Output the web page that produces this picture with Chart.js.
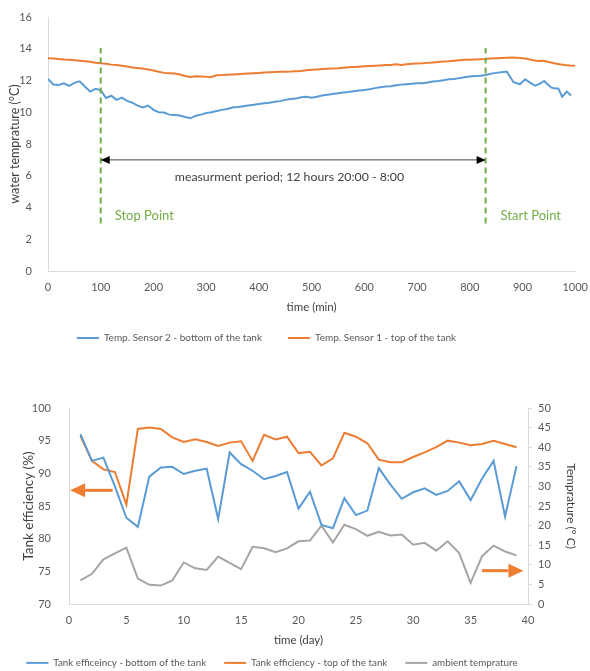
<!DOCTYPE html>
<html><head><meta charset="utf-8">
<script src="https://cdn.jsdelivr.net/npm/chart.js@4.4.0/dist/chart.umd.min.js"></script>
<style>
html,body{margin:0;padding:0;background:#fff;width:590px;height:671px;overflow:hidden}
canvas{position:absolute;left:0}
#c1{top:0}
#c2{top:380px}
</style></head><body>
<canvas id="c1" width="590" height="353" style="width:590px;height:353px"></canvas>
<canvas id="c2" width="590" height="291" style="width:590px;height:291px"></canvas>
<script>
// ---------- Chart 1: water temperature vs time (min) ----------
const sensor2Time = [0,10,20,30,40,50,60,70,80,90,100,110,120,130,140,150,160,170,180,190,200,210,220,230,240,250,260,270,280,290,300,310,320,330,340,350,360,370,380,390,400,410,420,430,440,450,460,470,480,490,500,510,520,530,540,550,560,570,580,590,600,610,620,630,640,650,660,670,680,690,700,710,720,730,740,750,760,770,780,790,800,810,820,830,840,850,860,870,883,895,905,915,924,933,941,948,955,962,968,975,984,992];
const sensor2Temp = [12.10,11.75,11.72,11.82,11.66,11.85,11.95,11.62,11.30,11.48,11.40,10.90,11.04,10.78,10.92,10.72,10.60,10.42,10.30,10.42,10.15,10.00,9.98,9.85,9.83,9.80,9.70,9.62,9.78,9.85,9.95,10.00,10.08,10.15,10.20,10.30,10.33,10.38,10.43,10.47,10.52,10.56,10.60,10.66,10.70,10.78,10.83,10.86,10.94,10.97,10.92,10.98,11.05,11.10,11.15,11.19,11.25,11.28,11.33,11.37,11.40,11.45,11.52,11.58,11.62,11.64,11.70,11.74,11.77,11.80,11.82,11.82,11.88,11.93,11.97,12.02,12.08,12.10,12.15,12.20,12.25,12.28,12.30,12.35,12.42,12.48,12.52,12.56,11.89,11.76,12.07,11.85,11.67,11.80,11.97,11.75,11.55,11.50,11.50,10.98,11.30,11.05];
const sensor1Time = [0,10,20,30,40,50,60,70,80,90,100,110,120,130,140,150,160,170,180,190,200,210,220,230,240,250,260,270,280,290,300,310,320,330,340,350,360,370,380,390,400,410,420,430,440,450,460,470,480,490,500,510,520,530,540,550,560,570,580,590,600,610,620,630,640,650,660,670,680,690,700,710,720,730,740,750,760,770,780,790,800,810,820,830,840,850,860,870,880,890,900,910,920,930,940,950,960,970,980,990,1000];
const sensor1Temp = [13.40,13.38,13.35,13.32,13.30,13.28,13.25,13.22,13.18,13.12,13.08,13.05,13.00,12.97,12.93,12.88,12.82,12.78,12.75,12.70,12.63,12.55,12.48,12.46,12.44,12.38,12.28,12.22,12.26,12.25,12.23,12.22,12.33,12.34,12.36,12.38,12.40,12.42,12.44,12.46,12.48,12.50,12.52,12.54,12.55,12.55,12.56,12.58,12.60,12.65,12.68,12.70,12.72,12.74,12.76,12.77,12.80,12.83,12.85,12.87,12.89,12.91,12.93,12.95,12.97,12.98,13.02,12.97,13.02,13.05,13.07,13.08,13.11,13.14,13.17,13.20,13.22,13.25,13.28,13.30,13.31,13.33,13.34,13.35,13.38,13.40,13.42,13.44,13.45,13.43,13.40,13.35,13.28,13.23,13.25,13.17,13.09,13.03,12.98,12.95,12.93];
const stopTime = 100, startTime = 830;
const markerSpan = [3, 14.05];       // vertical extent of the stop/start markers (°C)
const periodArrowTemp = 7;           // level of the measurement-period arrow (°C)
const periodLabel = 'measurment period; 12 hours 20:00 - 8:00';
const xTicks1 = [0,100,200,300,400,500,600,700,800,900,1000];
const yTicks1 = [0,2,4,6,8,10,12,14,16];

// ---------- Chart 2: tank efficiency vs time (day) ----------
const days = [1,2,3,4,5,6,7,8,9,10,11,12,13,14,15,16,17,18,19,20,21,22,23,24,25,26,27,28,29,30,31,32,33,34,35,36,37,38,39];
const effBottom = [96.0,91.9,92.4,88.0,83.2,81.8,89.5,90.9,91.0,89.9,90.4,90.7,83.0,93.2,91.4,90.4,89.1,89.6,90.2,84.6,87.2,82.1,81.6,86.2,83.6,84.3,90.8,88.3,86.1,87.1,87.7,86.7,87.3,88.8,85.9,89.2,91.9,83.4,91.1];
const effTop = [95.7,91.9,90.6,90.2,85.2,96.8,97.0,96.8,95.5,94.8,95.2,94.8,94.2,94.7,94.9,91.9,95.9,95.2,95.6,93.1,93.3,91.2,92.3,96.2,95.6,94.6,92.1,91.7,91.7,92.5,93.2,94.0,95.0,94.7,94.3,94.5,95.0,94.5,94.0];
const ambientTemp = [6.0,7.7,11.4,12.9,14.4,6.5,4.9,4.7,6.0,10.6,9.1,8.7,12.1,10.5,8.9,14.6,14.2,13.2,14.2,16.0,16.2,20.0,15.7,20.2,19.1,17.4,18.4,17.5,17.7,15.1,15.6,13.6,16.0,13.0,5.4,12.2,14.9,13.4,12.4];
const leftArrow = {fromDay: 3.8, toDay: 0.1, eff: 87.4};
const rightArrow = {fromDay: 36.0, toDay: 39.6, temp: 8.5};

const FONT = 'Lato, "Open Sans", sans-serif';
const BLUE = '#5B9BD5', ORANGE = '#ED7D31', GRAY = '#A5A5A5', GREEN = '#70AD47';
const AXIS = '#D9D9D9', TICK = '#595959', TITLE = '#404040';

const pts = (xs, ys) => xs.map((x, i) => ({x, y: ys[i]}));
const shiftLegend = (dx) => ({
  id: 'shiftLegend',
  afterLayout(chart) { const l = chart.legend; if (l) { l.left += dx; l.right += dx; } }
});

const annoTop = {
  id: 'annoTop',
  afterDatasetsDraw(chart) {
    const {ctx, scales: {x, y}} = chart;
    const ya = y.getPixelForValue(periodArrowTemp);
    const xl = x.getPixelForValue(stopTime), xr = x.getPixelForValue(startTime);
    ctx.save();
    ctx.fillStyle = '#000';
    ctx.beginPath(); ctx.moveTo(xl, ya); ctx.lineTo(xl + 9, ya - 4); ctx.lineTo(xl + 9, ya + 4); ctx.closePath(); ctx.fill();
    ctx.beginPath(); ctx.moveTo(xr, ya); ctx.lineTo(xr - 9, ya - 4); ctx.lineTo(xr - 9, ya + 4); ctx.closePath(); ctx.fill();
    ctx.font = '12.3px ' + FONT;
    ctx.fillStyle = TITLE;
    ctx.textAlign = 'center'; ctx.textBaseline = 'middle';
    ctx.fillText(periodLabel, x.getPixelForValue(458), y.getPixelForValue(5.94));
    ctx.font = '13px ' + FONT;
    ctx.fillStyle = GREEN;
    ctx.textAlign = 'left';
    ctx.fillText('Stop Point', xl + 14, y.getPixelForValue(3.5));
    ctx.fillText('Start Point', xr + 15, y.getPixelForValue(3.5));
    ctx.restore();
  }
};

new Chart(document.getElementById('c1'), {
  type: 'line',
  data: {
    datasets: [
      {label: 'Temp. Sensor 2 - bottom of the tank', data: pts(sensor2Time, sensor2Temp), borderColor: BLUE, backgroundColor: BLUE, borderWidth: 2, pointRadius: 0, tension: 0},
      {label: 'Temp. Sensor 1 - top of the tank', data: pts(sensor1Time, sensor1Temp), borderColor: ORANGE, backgroundColor: ORANGE, borderWidth: 2, pointRadius: 0, tension: 0},
      {label: 'stop', data: pts([stopTime, stopTime], markerSpan), borderColor: GREEN, borderWidth: 2, borderDash: [6, 4], pointRadius: 0, order: -1},
      {label: 'start', data: pts([startTime, startTime], markerSpan), borderColor: GREEN, borderWidth: 2, borderDash: [6, 4], pointRadius: 0, order: -1},
      {label: 'period', data: pts([stopTime, startTime], [periodArrowTemp, periodArrowTemp]), borderColor: '#404040', borderWidth: 1, pointRadius: 0, order: -1}
    ]
  },
  options: {
    responsive: false, animation: false, devicePixelRatio: 1,
    layout: {padding: {top: 17, right: 13, left: 0, bottom: 0}},
    plugins: {
      tooltip: {enabled: false},
      legend: {
        position: 'bottom',
        labels: {
          filter: (item) => item.datasetIndex < 2,
          usePointStyle: true, pointStyle: 'line', pointStyleWidth: 22,
          padding: 26, color: TICK, font: {family: FONT, size: 10}
        }
      }
    },
    scales: {
      x: {
        type: 'linear', min: 0, max: 1000,
        afterBuildTicks: (s) => { s.ticks = xTicks1.map(v => ({value: v})); },
        afterFit: (s) => { s.height = 36; },
        grid: {display: false},
        border: {display: true, color: AXIS, width: 1},
        ticks: {color: TICK, font: {family: FONT, size: 11}, padding: 2, maxRotation: 0, callback: (v) => String(v)},
        title: {display: true, text: 'time (min)', color: TITLE, font: {family: FONT, size: 11.5}, padding: {top: 0, bottom: -7}}
      },
      y: {
        min: 0, max: 16,
        afterBuildTicks: (s) => { s.ticks = yTicks1.map(v => ({value: v})); },
        afterFit: (s) => { s.width = 48; },
        grid: {display: false},
        border: {display: true, color: AXIS, width: 1},
        ticks: {color: TICK, font: {family: FONT, size: 11}, padding: 8, callback: (v) => String(v)},
        title: {display: true, text: 'water temprature (°C)', color: TITLE, font: {family: FONT, size: 12.5}, padding: {top: 7, bottom: 0}}
      }
    }
  },
  plugins: [annoTop, shiftLegend(-22)]
});

const arrows2 = {
  id: 'arrows2',
  afterDatasetsDraw(chart) {
    const {ctx, scales: {x, y, y1}} = chart;
    const drawArrow = (x0, x1, yy) => {
      const dir = Math.sign(x1 - x0);
      const head = 15;
      ctx.beginPath();
      ctx.moveTo(x0, yy); ctx.lineTo(x1 - dir * head, yy);
      ctx.stroke();
      ctx.beginPath();
      ctx.moveTo(x1, yy);
      ctx.lineTo(x1 - dir * head, yy - 7);
      ctx.lineTo(x1 - dir * head, yy + 7);
      ctx.closePath(); ctx.fill();
    };
    ctx.save();
    ctx.strokeStyle = ORANGE; ctx.fillStyle = ORANGE; ctx.lineWidth = 3;
    drawArrow(x.getPixelForValue(leftArrow.fromDay), x.getPixelForValue(leftArrow.toDay), y.getPixelForValue(leftArrow.eff));
    drawArrow(x.getPixelForValue(rightArrow.fromDay), x.getPixelForValue(rightArrow.toDay), y1.getPixelForValue(rightArrow.temp));
    ctx.restore();
  }
};

new Chart(document.getElementById('c2'), {
  type: 'line',
  data: {
    datasets: [
      {label: 'Tank efficeincy - bottom of the tank', data: pts(days, effBottom), yAxisID: 'y', borderColor: BLUE, backgroundColor: BLUE, borderWidth: 2, pointRadius: 0, tension: 0},
      {label: 'Tank efficiency - top of the tank', data: pts(days, effTop), yAxisID: 'y', borderColor: ORANGE, backgroundColor: ORANGE, borderWidth: 2, pointRadius: 0, tension: 0},
      {label: 'ambient temprature', data: pts(days, ambientTemp), yAxisID: 'y1', borderColor: GRAY, backgroundColor: GRAY, borderWidth: 2, pointRadius: 0, tension: 0}
    ]
  },
  options: {
    responsive: false, animation: false, devicePixelRatio: 1,
    layout: {padding: {top: 28, right: 0, left: 0, bottom: 0}},
    plugins: {
      tooltip: {enabled: false},
      legend: {
        position: 'bottom', maxHeight: 31,
        labels: {
          usePointStyle: true, pointStyle: 'line', pointStyleWidth: 22,
          padding: 18, color: TICK, font: {family: FONT, size: 9.8}
        }
      }
    },
    scales: {
      x: {
        type: 'linear', min: 0, max: 40,
        ticks: {stepSize: 5, color: TICK, font: {family: FONT, size: 11}, padding: 2, maxRotation: 0},
        afterFit: (s) => { s.height = 36; },
        grid: {display: false},
        border: {display: true, color: AXIS, width: 1},
        title: {display: true, text: 'time (day)', color: TITLE, font: {family: FONT, size: 11.5}, padding: {top: 0, bottom: -7.6}}
      },
      y: {
        position: 'left', min: 70, max: 100,
        ticks: {stepSize: 5, color: TICK, font: {family: FONT, size: 11}, padding: 10},
        afterFit: (s) => { s.width = 69; },
        grid: {display: false},
        border: {display: true, color: AXIS, width: 1},
        title: {display: true, text: 'Tank efficiency (%)', color: TITLE, font: {family: FONT, size: 13.5}, padding: {top: 21, bottom: 0}}
      },
      y1: {
        position: 'right', min: 0, max: 50,
        ticks: {stepSize: 5, color: TICK, font: {family: FONT, size: 11}, padding: 6},
        afterFit: (s) => { s.width = 62; },
        grid: {display: true, drawOnChartArea: false, drawTicks: true, tickLength: 4, color: AXIS},
        border: {display: true, color: AXIS, width: 1},
        title: {display: true, text: 'Temprature (° C)', color: TITLE, font: {family: FONT, size: 12}, padding: {top: 12, bottom: 0}}
      }
    }
  },
  plugins: [arrows2, shiftLegend(-23)]
});
</script>
</body></html>
